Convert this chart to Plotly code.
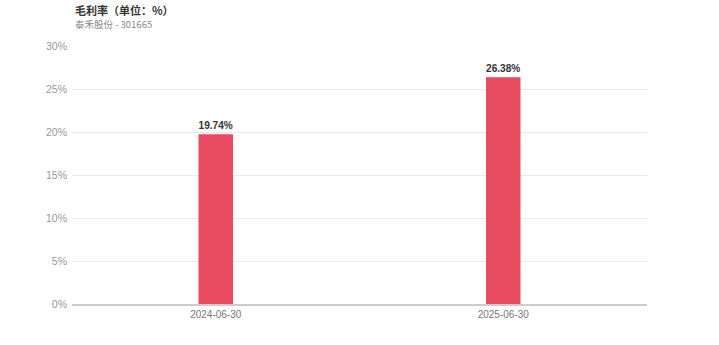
import plotly.graph_objects as go

categories = ["2024-06-30", "2025-06-30"]
values = [19.74, 26.38]
labels = ["19.74%", "26.38%"]
y_ticks = [0, 5, 10, 15, 20, 25, 30]
y_tick_text = ["0%", "5%", "10%", "15%", "20%", "25%", "30%"]

L, R, T, B = 72, 72, 46, 41
W, H = 719, 345
TX = 61

fig = go.Figure()
fig.add_trace(go.Bar(
    x=categories, y=values, text=["<b>%s</b>" % t for t in labels], textposition="outside",
    textfont=dict(size=11, color="#333333", family="Liberation Sans, Arial"),
    marker=dict(color="#e84a5f", line=dict(width=0)),
    width=0.12, cliponaxis=False,
))
fig.update_layout(
    width=W, height=H,
    margin=dict(l=L, r=R, t=T, b=B),
    paper_bgcolor="white", plot_bgcolor="white",
    showlegend=False,
    font=dict(family="Liberation Sans, Arial", size=11, color="#666666"),
    annotations=[
        dict(text="<b>毛利率（单位：%）</b>", xref="paper", yref="paper",
             xanchor="left", yanchor="top", showarrow=False, align="left", borderpad=0,
             xshift=13,
             font=dict(size=11, color="#333333", family="Noto Sans CJK SC")),
        dict(text="泰禾股份 - 301665", xref="paper", yref="paper",
             xanchor="left", yanchor="top", showarrow=False, align="left", borderpad=0,
             xshift=13,
             font=dict(size=9.5, color="#888888", family="Noto Sans CJK SC")),
    ],
)
pw, ph = W - L - R, H - T - B
for a, ypx in zip(fig.layout.annotations, [1, 16]):
    a.x = (TX - L) / pw
    a.y = 1 + (T - ypx) / ph
fig.update_xaxes(type="category", showgrid=False, showline=True, linecolor="#cccccc",
                 linewidth=1.5, ticks="", tickfont=dict(size=10, color="#777777"))
fig.update_yaxes(range=[0, 30], tickvals=y_ticks, ticktext=y_tick_text,
                 showgrid=True, gridcolor="#e8e8f0", gridwidth=1, zeroline=False,
                 showline=False, ticks="", ticklabelstandoff=4,
                 tickfont=dict(size=10.5, color="#999999"))
fig.write_html("out.html")
